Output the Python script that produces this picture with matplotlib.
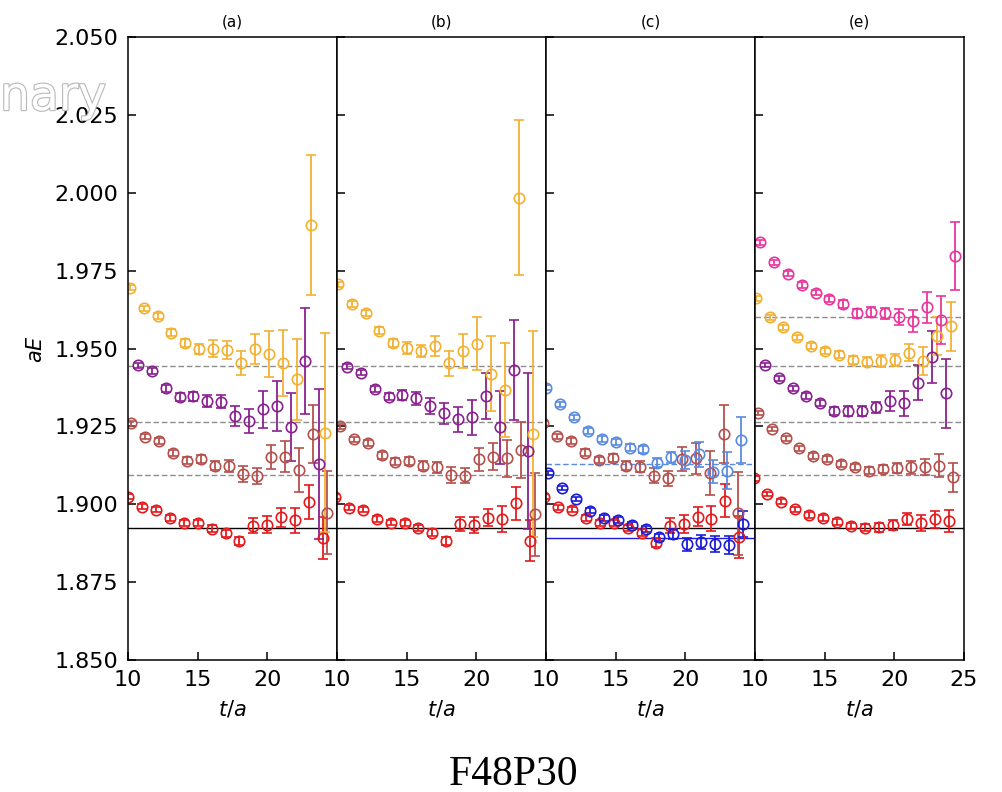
import matplotlib
matplotlib.use('Agg')
import matplotlib.pyplot as plt
import matplotlib.patheffects as pe
import numpy as np

# time slices
T = np.arange(10, 25)          # 10 .. 24
T_P = np.arange(11, 25)        # purple series starts one step later

PANELS = ['(a)', '(b)', '(c)', '(e)']

# ---- panel (a)
red_a = [1.9024, 1.8992, 1.8983, 1.8955, 1.8939, 1.8939, 1.8922, 1.8907, 1.8882, 1.8931, 1.8935, 1.8958, 1.8948, 1.9008, 1.8891]
red_a_err = [0.0008, 0.0008, 0.0008, 0.0009, 0.0009, 0.001, 0.001, 0.0012, 0.0014, 0.0024, 0.0028, 0.003, 0.004, 0.0054, 0.0067]
orange_a = [1.9696, 1.9629, 1.9604, 1.9551, 1.9519, 1.9499, 1.9500, 1.9495, 1.9454, 1.9500, 1.9482, 1.9454, 1.9401, 1.9896, 1.9230]
orange_a_err = [0.0008, 0.0009, 0.001, 0.0011, 0.0013, 0.0017, 0.0027, 0.0028, 0.0038, 0.0048, 0.0074, 0.0107, 0.013, 0.0225, 0.032]
purple_a = [1.9447, 1.9429, 1.9372, 1.9345, 1.9347, 1.9332, 1.9330, 1.9283, 1.9268, 1.9305, 1.9316, 1.9249, 1.9460, 1.9129]
purple_a_err = [0.0008, 0.0009, 0.001, 0.0012, 0.0015, 0.002, 0.002, 0.0032, 0.0038, 0.006, 0.008, 0.011, 0.017, 0.024]
brown_a = [1.9260, 1.9217, 1.9203, 1.9164, 1.9140, 1.9145, 1.9124, 1.9123, 1.9097, 1.9090, 1.9151, 1.9153, 1.9110, 1.9226, 1.8973]
brown_a_err = [0.0008, 0.0008, 0.0009, 0.001, 0.0011, 0.0013, 0.0015, 0.0018, 0.0025, 0.0025, 0.0038, 0.005, 0.007, 0.0093, 0.0133]

# ---- panel (b)
red_b = [1.9024, 1.8989, 1.8982, 1.8952, 1.8941, 1.8941, 1.8923, 1.8909, 1.8882, 1.8936, 1.8933, 1.8957, 1.8952, 1.9003, 1.8883]
red_b_err = [0.0008, 0.0008, 0.0008, 0.0009, 0.0009, 0.001, 0.001, 0.0012, 0.0014, 0.0022, 0.0026, 0.0028, 0.0042, 0.0053, 0.0065]
orange_b = [1.9707, 1.9643, 1.9615, 1.9557, 1.9519, 1.9503, 1.9492, 1.9509, 1.9453, 1.9492, 1.9515, 1.9420, 1.9367, 1.9985, 1.9226]
orange_b_err = [0.0008, 0.0009, 0.001, 0.0011, 0.0013, 0.0019, 0.002, 0.0033, 0.004, 0.0055, 0.0085, 0.012, 0.015, 0.025, 0.033]
purple_b = [1.9442, 1.9423, 1.9370, 1.9346, 1.9351, 1.9340, 1.9316, 1.9292, 1.9273, 1.9279, 1.9348, 1.9247, 1.9431, 1.9172]
purple_b_err = [0.0008, 0.0009, 0.001, 0.0012, 0.0015, 0.002, 0.0025, 0.0034, 0.0041, 0.0057, 0.0075, 0.0118, 0.016, 0.025]
brown_b = [1.9251, 1.9209, 1.9196, 1.9157, 1.9137, 1.9139, 1.9124, 1.9119, 1.9094, 1.9092, 1.9144, 1.9153, 1.9148, 1.9174, 1.8968]
brown_b_err = [0.0008, 0.0008, 0.0009, 0.001, 0.0011, 0.0013, 0.0015, 0.0018, 0.0025, 0.0025, 0.0036, 0.0044, 0.006, 0.009, 0.0134]

# ---- panel (c)
lblue_c = [1.9375, 1.9322, 1.9279, 1.9236, 1.9210, 1.9199, 1.9182, 1.9176, 1.9134, 1.9151, 1.9142, 1.9161, 1.9105, 1.9108, 1.9207]
lblue_c_err = [0.0008, 0.0008, 0.0009, 0.0009, 0.001, 0.001, 0.0011, 0.0012, 0.0015, 0.0018, 0.003, 0.004, 0.0037, 0.006, 0.0073]
blue_c = [1.9101, 1.9053, 1.9017, 1.8979, 1.8955, 1.8949, 1.8933, 1.8921, 1.8894, 1.8905, 1.8871, 1.8878, 1.8872, 1.8869, 1.8937]
blue_c_err = [0.0007, 0.0007, 0.0008, 0.0008, 0.0009, 0.0009, 0.001, 0.001, 0.0012, 0.0015, 0.002, 0.0022, 0.0025, 0.003, 0.0042]
red_c = [1.9024, 1.8990, 1.8982, 1.8955, 1.8939, 1.8939, 1.8925, 1.8909, 1.8877, 1.8931, 1.8937, 1.8960, 1.8953, 1.9012, 1.8894]
red_c_err = [0.0008, 0.0008, 0.0008, 0.0009, 0.0009, 0.001, 0.001, 0.0012, 0.0014, 0.0024, 0.0028, 0.003, 0.004, 0.0054, 0.0067]
brown_c = [1.9260, 1.9219, 1.9204, 1.9166, 1.9142, 1.9148, 1.9124, 1.9121, 1.9092, 1.9083, 1.9145, 1.9148, 1.9100, 1.9225, 1.8971]
brown_c_err = [0.0008, 0.0008, 0.0009, 0.001, 0.0011, 0.0013, 0.0015, 0.0018, 0.0025, 0.0025, 0.0038, 0.005, 0.007, 0.0093, 0.0133]

# ---- panel (e)
red_e = [1.9083, 1.9033, 1.9008, 1.8984, 1.8966, 1.8955, 1.8944, 1.8930, 1.8925, 1.8926, 1.8934, 1.8952, 1.8939, 1.8952, 1.8947]
red_e_err = [0.0007, 0.0007, 0.0008, 0.0008, 0.0009, 0.0009, 0.001, 0.001, 0.0012, 0.0015, 0.0016, 0.0019, 0.0025, 0.0028, 0.0035]
orange_e = [1.9661, 1.9600, 1.9568, 1.9536, 1.9509, 1.9493, 1.9481, 1.9463, 1.9458, 1.9460, 1.9463, 1.9487, 1.9460, 1.9540, 1.9572]
orange_e_err = [0.0007, 0.0008, 0.0008, 0.0009, 0.0009, 0.001, 0.0011, 0.0012, 0.0015, 0.0018, 0.002, 0.0028, 0.0045, 0.006, 0.0079]
purple_e = [1.9447, 1.9404, 1.9372, 1.9348, 1.9326, 1.9300, 1.9300, 1.9300, 1.9311, 1.9332, 1.9324, 1.9390, 1.9474, 1.9356]
purple_e_err = [0.0007, 0.0008, 0.0008, 0.0009, 0.001, 0.0013, 0.0015, 0.0015, 0.0019, 0.0033, 0.0039, 0.0056, 0.0083, 0.011]
brown_e = [1.9294, 1.9241, 1.9212, 1.9180, 1.9155, 1.9145, 1.9129, 1.9119, 1.9108, 1.9112, 1.9118, 1.9119, 1.9119, 1.9124, 1.9087]
brown_e_err = [0.0007, 0.0007, 0.0008, 0.0008, 0.0009, 0.0009, 0.001, 0.001, 0.0012, 0.0013, 0.0016, 0.0021, 0.0025, 0.0037, 0.0047]
pink_e = [1.9841, 1.9777, 1.9741, 1.9704, 1.9680, 1.9659, 1.9643, 1.9613, 1.9616, 1.9613, 1.9602, 1.9588, 1.9632, 1.9592, 1.9797]
pink_e_err = [0.0007, 0.0008, 0.0008, 0.0009, 0.0009, 0.001, 0.0012, 0.0015, 0.0016, 0.0018, 0.0025, 0.0036, 0.005, 0.0076, 0.011]

# plateau levels
levels_ab = [1.9444, 1.9264, 1.9094]
levels_e = [1.9601, 1.9444, 1.9264, 1.9094]
level_ground = 1.8924
level_c_lblue = 1.9130
level_c_grey = 1.9094
level_c_blue = 1.8892

RED = '#e41a1c'
BROWN = '#b4504d'
PURPLE = '#8a2190'
ORANGE = '#f2b132'
PINK = '#e8369d'
LBLUE = '#5a8be0'
BLUE = '#1c1cd8'
GREY = '#8c8c8c'

# (t, values, errors, colour, shift) for each panel
series = [
    [(T, red_a, red_a_err, RED, 0.0), (T, brown_a, brown_a_err, BROWN, 0.25),
     (T_P, purple_a, purple_a_err, PURPLE, -0.3), (T, orange_a, orange_a_err, ORANGE, 0.12)],
    [(T, red_b, red_b_err, RED, -0.15), (T, brown_b, brown_b_err, BROWN, 0.2),
     (T_P, purple_b, purple_b_err, PURPLE, -0.3), (T, orange_b, orange_b_err, ORANGE, 0.05)],
    [(T, red_c, red_c_err, RED, -0.12), (T, brown_c, brown_c_err, BROWN, -0.22),
     (T, blue_c, blue_c_err, BLUE, 0.15), (T, lblue_c, lblue_c_err, LBLUE, 0.0)],
    [(T, red_e, red_e_err, RED, -0.1), (T, brown_e, brown_e_err, BROWN, 0.2),
     (T_P, purple_e, purple_e_err, PURPLE, -0.3), (T, orange_e, orange_e_err, ORANGE, 0.05),
     (T, pink_e, pink_e_err, PINK, 0.35)],
]

fig = plt.figure(figsize=(10.03, 7.92), dpi=100)
axes = fig.subplots(1, 4, sharey=True)
fig.subplots_adjust(left=0.1276, right=0.961, top=0.953, bottom=0.1667, wspace=0)

for i, ax in enumerate(axes):
    if i == 2:
        ax.axhline(level_c_lblue, color=LBLUE, ls=(0, (4, 2)), lw=1.0)
        ax.axhline(level_c_grey, color=GREY, ls=(0, (4, 2)), lw=1.0)
        ax.axhline(level_ground, color='k', lw=1.0)
        ax.axhline(level_c_blue, color=BLUE, lw=1.0)
    else:
        for lv in (levels_e if i == 3 else levels_ab):
            ax.axhline(lv, color=GREY, ls=(0, (4, 2)), lw=1.0)
        ax.axhline(level_ground, color='k', lw=1.0)

    for t, y, e, c, dx in series[i]:
        ax.errorbar(t + dx, y, yerr=e, fmt='o', mfc='none', mec=c, color=c,
                    ms=7.5, mew=1.2, elinewidth=1.3, capsize=3.5, capthick=1.2)

    ax.set_xlim(10, 25)
    ax.set_xticks([10, 15, 20, 25] if i == 3 else [10, 15, 20])
    ax.set_title(PANELS[i], fontsize=11, pad=8)
    ax.set_xlabel('$t/a$', fontsize=15, labelpad=6)
    ax.tick_params(direction='in', length=6, width=1.1, labelsize=16, pad=7)
    for s in ax.spines.values():
        s.set_linewidth(1.1)

axes[0].set_ylim(1.850, 2.050)
axes[0].set_yticks(np.arange(1.850, 2.0501, 0.025))
axes[0].yaxis.set_major_formatter(matplotlib.ticker.FormatStrFormatter('%.3f'))
axes[0].set_ylabel('$aE$', fontsize=15, labelpad=6)

# watermark remnant at the top left
wm = fig.text(0.0, 0.861, 'nary', fontsize=34, color='white',
              ha='left', va='baseline', zorder=0)
wm.set_path_effects([pe.withStroke(linewidth=1.6, foreground='#b8b8b8')])

fig.text(0.512, 0.009, 'F48P30', fontsize=30, family='Liberation Serif',
         ha='center', va='baseline')

fig.savefig('out.png', dpi=100)
